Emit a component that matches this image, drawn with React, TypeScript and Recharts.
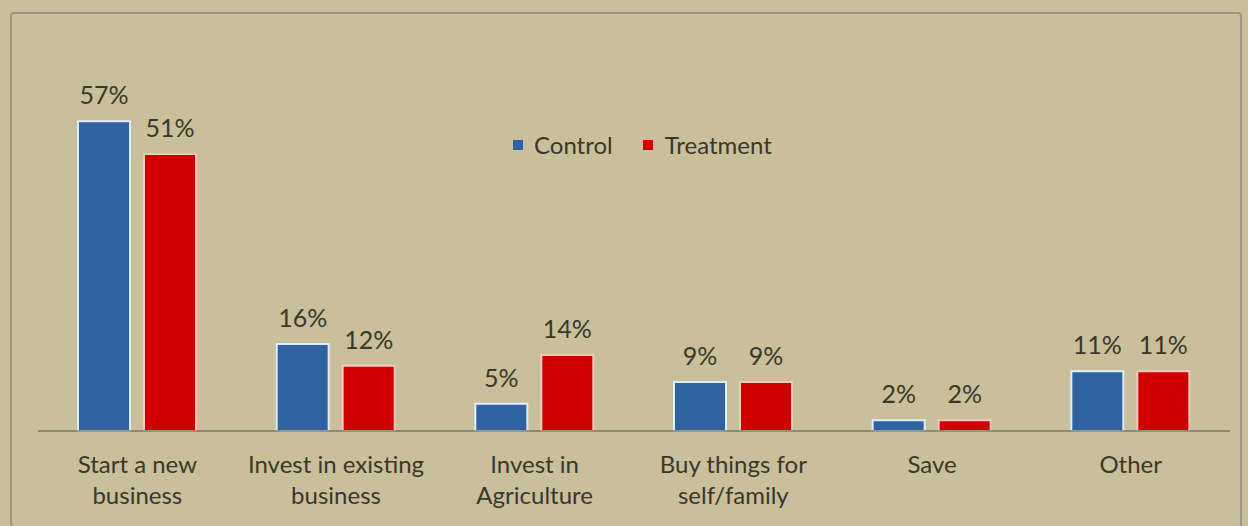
import React from "react";
import { BarChart, Bar, XAxis, YAxis, LabelList } from "recharts";

const categories = [
  "Start a new\nbusiness",
  "Invest in existing\nbusiness",
  "Invest in\nAgriculture",
  "Buy things for\nself/family",
  "Save",
  "Other",
];
const control = [57, 16, 5, 9, 2, 11];
const treatment = [51, 12, 14, 9, 2, 11];

const data = categories.map((name, i) => ({
  name,
  control: control[i],
  treatment: treatment[i],
}));

const FONT = "Lato, 'Open Sans', sans-serif";
const TEXT = "#3a382a";
const BLUE = "#2E62A0";
const RED = "#D00000";

const CategoryTick = (props: any) => {
  const { x, y, payload } = props;
  const lines = String(payload.value).split("\n");
  return (
    <g transform={`translate(${x},${y})`}>
      {lines.map((l: string, i: number) => (
        <text
          key={i}
          x={0}
          y={34 + i * 31}
          textAnchor="middle"
          fontFamily={FONT}
          fontSize={24}
          fill={TEXT}
        >
          {l}
        </text>
      ))}
    </g>
  );
};

export default function App() {
  return (
    <div
      style={{
        position: "absolute",
        left: 0,
        top: 0,
        width: 1248,
        height: 526,
        background: "#C9BF9B",
      }}
    >
      <div
        style={{
          position: "absolute",
          left: 10,
          top: 12,
          width: 1232,
          height: 516,
          border: "2px solid #9a968a",
          borderRadius: 4,
          boxSizing: "border-box",
        }}
      />
      <div
        style={{
          position: "absolute",
          left: 513,
          top: 130,
          display: "flex",
          alignItems: "center",
          fontFamily: FONT,
          fontSize: 24,
          color: TEXT,
          zIndex: 2,
        }}
      >
        <span style={{ width: 10, height: 10, background: BLUE, display: "inline-block", marginRight: 11 }} />
        <span style={{ marginRight: 30 }}>Control</span>
        <span style={{ width: 10, height: 10, background: RED, display: "inline-block", marginRight: 12 }} />
        <span>Treatment</span>
      </div>
      <BarChart
        width={1248}
        height={526}
        data={data}
        margin={{ top: 105, right: 18, bottom: 35, left: 38 }}
        barSize={52}
        barGap={14}
        style={{ position: "absolute", left: 0, top: 0 }}
      >
        <XAxis
          dataKey="name"
          height={60}
          tickLine={false}
          axisLine={{ stroke: "#7d7764", strokeWidth: 1.5 }}
          tick={<CategoryTick />}
          interval={0}
        />
        <YAxis hide domain={[0, 60]} />
        <Bar dataKey="control" fill={BLUE} stroke="#dfeefc" strokeWidth={2} isAnimationActive={false}>
          <LabelList
            dataKey="control"
            position="top"
            offset={17}
            formatter={(v: any) => `${v}%`}
            style={{ fontFamily: FONT, fontSize: 25, fill: TEXT }}
          />
        </Bar>
        <Bar dataKey="treatment" fill={RED} stroke="#f6c9c0" strokeWidth={2} isAnimationActive={false}>
          <LabelList
            dataKey="treatment"
            position="top"
            offset={17}
            formatter={(v: any) => `${v}%`}
            style={{ fontFamily: FONT, fontSize: 25, fill: TEXT }}
          />
        </Bar>
      </BarChart>
    </div>
  );
}
